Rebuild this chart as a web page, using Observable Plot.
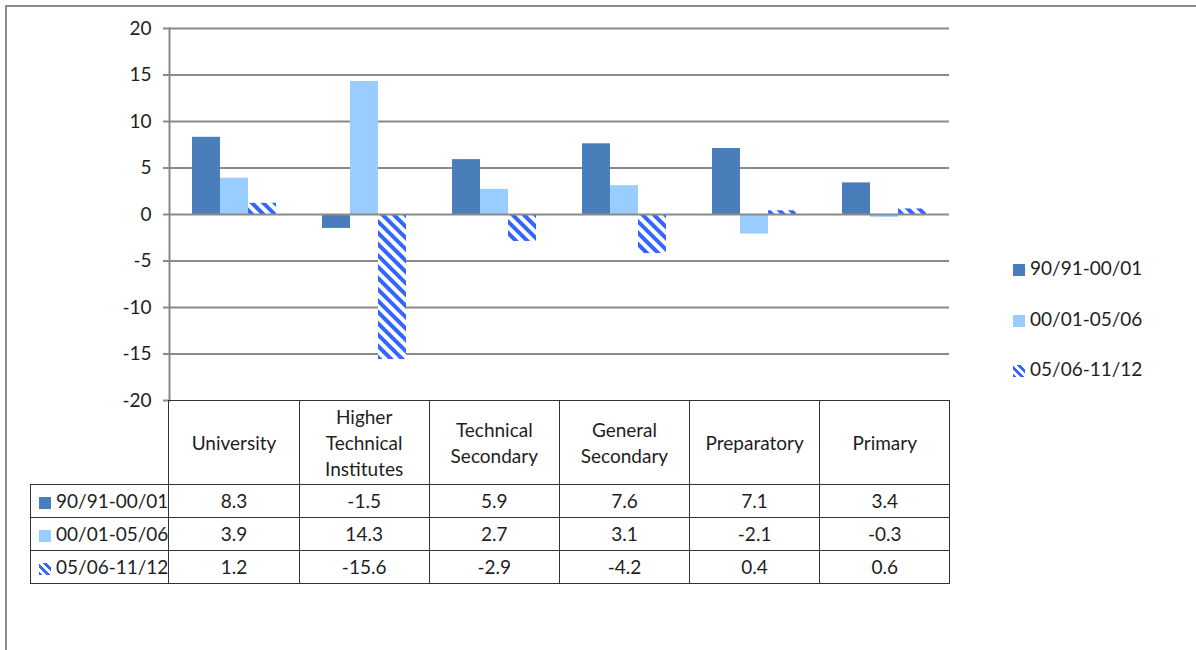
<!DOCTYPE html>
<html><head><meta charset="utf-8">
<script src="https://cdn.jsdelivr.net/npm/d3@7"></script>
<script src="https://cdn.jsdelivr.net/npm/@observablehq/plot@0.6"></script>
<style>
body{margin:0;background:#fff;font-family:Lato,"Open Sans",sans-serif;color:#1e1e1e;}
#wrap{position:relative;width:1196px;height:650px;overflow:hidden;}
#frame{position:absolute;left:5px;top:5px;width:1300px;height:800px;border-left:2px solid #8c8c8c;border-top:2px solid #8c8c8c;}
#chart{position:absolute;left:0;top:0;}
#chart svg line, #chart svg path{stroke:#8a8a8a;stroke-width:2px;}
#tbl{position:absolute;left:30px;top:400px;border-collapse:collapse;table-layout:fixed;font-size:19px;}
#tbl td{border:1.5px solid #333;text-align:center;padding:0;height:32px;line-height:26px;}
#tbl tr.head td{height:83px;}
#tbl td.blank{border:none;}
#tbl td.lab{text-align:left;padding-left:8px;white-space:nowrap;}
.sw{display:inline-block;width:12px;height:12px;margin-right:5px;vertical-align:-1px;}
#legend{position:absolute;left:1013px;top:256px;font-size:19px;}
#legend div{height:50.5px;line-height:24px;white-space:nowrap;}
.hatch{background:repeating-linear-gradient(45deg,#3366ff 0 2.8px,#fff 2.8px 5.6px);}
</style></head>
<body>
<div id="wrap">
<div id="frame"></div>
<svg width="0" height="0" style="position:absolute">
<defs>
<pattern id="hatch" patternUnits="userSpaceOnUse" width="8" height="8" patternTransform="rotate(-45)">
<rect width="8" height="8" fill="#fff"/>
<rect width="4" height="8" fill="#3366ff"/>
</pattern>
</defs>
</svg>
<div id="chart"></div>
<table id="tbl"></table>
<div id="legend"></div>
</div>
<script>
const categories = ["University","Higher Technical Institutes","Technical Secondary","General Secondary","Preparatory","Primary"];
const categoryLabels = [["University"],["Higher","Technical","Institutes"],["Technical","Secondary"],["General","Secondary"],["Preparatory"],["Primary"]];
const series = ["90/91-00/01","00/01-05/06","05/06-11/12"];
const s1 = [8.3,-1.5,5.9,7.6,7.1,3.4];
const s2 = [3.9,14.3,2.7,3.1,-2.1,-0.3];
const s3 = [1.2,-15.6,-2.9,-4.2,0.4,0.6];
const yTicks = [-20,-15,-10,-5,0,5,10,15,20];
const seriesValues = [s1,s2,s3];
const fills = ["#4a7ebb","#99ccff","url(#hatch)"];
const swatchStyles = ["background:#4a7ebb","background:#99ccff",""];

const data = categories.flatMap((c,i)=>series.map((s,j)=>({category:c, series:s, value:seriesValues[j][i]})));

const chart = Plot.plot({
  width:1196, height:402, marginTop:28, marginLeft:168, marginRight:247, marginBottom:2,
  fx:{domain:categories, padding:0, axis:null},
  x:{domain:series, paddingInner:0, paddingOuter:0.745, axis:null},
  y:{domain:[-20,20], ticks:yTicks, tickSize:6, tickPadding:12, line:true, label:null, tickFormat:d=>String(d)},
  color:{domain:series, range:fills},
  style:{fontFamily:"Lato, 'Open Sans', sans-serif", fontSize:"19px", color:"#1e1e1e", overflow:"visible"},
  marks:[
    Plot.ruleY(yTicks.filter(t=>t!==0 && t!==-20), {stroke:"#8a8a8a", strokeWidth:2}),
    Plot.barY(data, {fx:"category", x:"series", y:"value", fill:"series"}),
    Plot.ruleY([0], {stroke:"#8a8a8a", strokeWidth:2})
  ]
});
document.getElementById("chart").appendChild(chart);

// data table
const tbl = document.getElementById("tbl");
const colg = document.createElement("colgroup");
colg.innerHTML = `<col style="width:138px">` + categories.map(()=>`<col style="width:130.17px">`).join("");
tbl.appendChild(colg);
const head = document.createElement("tr");
head.className = "head";
head.innerHTML = `<td class="blank"></td>` + categoryLabels.map(l=>`<td>${l.join("<br>")}</td>`).join("");
tbl.appendChild(head);
series.forEach((s,j)=>{
  const tr = document.createElement("tr");
  const sw = j===2 ? `<span class="sw hatch"></span>` : `<span class="sw" style="${swatchStyles[j]}"></span>`;
  tr.innerHTML = `<td class="lab">${sw}${s}</td>` + seriesValues[j].map(v=>`<td>${v}</td>`).join("");
  tbl.appendChild(tr);
});

// legend
const lg = document.getElementById("legend");
series.forEach((s,j)=>{
  const d = document.createElement("div");
  const sw = j===2 ? `<span class="sw hatch"></span>` : `<span class="sw" style="${swatchStyles[j]}"></span>`;
  d.innerHTML = sw + s;
  lg.appendChild(d);
});
</script>
</body></html>
